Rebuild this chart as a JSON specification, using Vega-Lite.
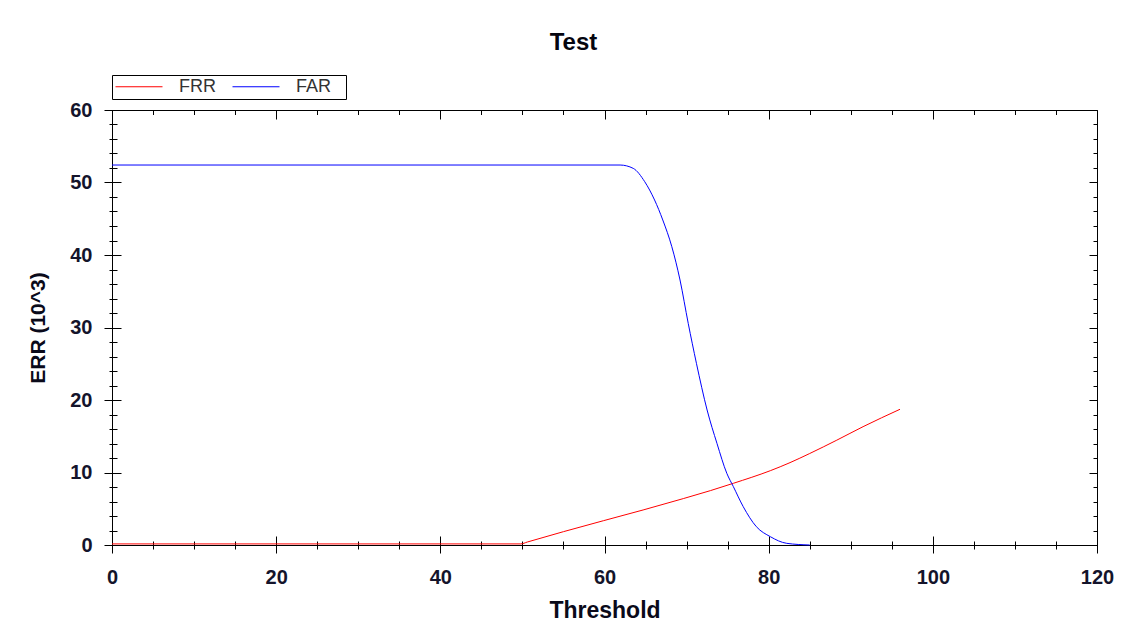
{
  "$schema": "https://vega.github.io/schema/vega-lite/v6.json",
  "width": 985,
  "height": 435,
  "autosize": "none",
  "padding": {"left": 112, "top": 110, "right": 33, "bottom": 93},
  "background": "white",
  "config": {
    "view": {"stroke": "black", "strokeWidth": 1},
    "font": "Liberation Sans"
  },
  "title": {
    "text": "Test",
    "fontSize": 24,
    "fontWeight": "bold",
    "color": "#05050f",
    "anchor": "middle",
    "dx": -31,
    "offset": 20
  },
  "data": {
    "values": [
      {"t": 0, "v": 0.15, "s": "FRR"},
      {"t": 49.8, "v": 0.15, "s": "FRR"},
      {"t": 50.6, "v": 0.41, "s": "FRR"},
      {"t": 55.0, "v": 1.84, "s": "FRR"},
      {"t": 59.9, "v": 3.36, "s": "FRR"},
      {"t": 64.7, "v": 4.83, "s": "FRR"},
      {"t": 69.6, "v": 6.4, "s": "FRR"},
      {"t": 72.9, "v": 7.5, "s": "FRR"},
      {"t": 75.7, "v": 8.51, "s": "FRR"},
      {"t": 80.2, "v": 10.25, "s": "FRR"},
      {"t": 82.6, "v": 11.36, "s": "FRR"},
      {"t": 85.0, "v": 12.62, "s": "FRR"},
      {"t": 88.3, "v": 14.46, "s": "FRR"},
      {"t": 91.5, "v": 16.32, "s": "FRR"},
      {"t": 96.0, "v": 18.72, "s": "FRR"},
      {"t": 0, "v": 52.41, "s": "FAR"},
      {"t": 61.9, "v": 52.41, "s": "FAR"},
      {"t": 63.5, "v": 51.95, "s": "FAR"},
      {"t": 64.9, "v": 50.11, "s": "FAR"},
      {"t": 66.1, "v": 47.59, "s": "FAR"},
      {"t": 67.1, "v": 44.83, "s": "FAR"},
      {"t": 68.2, "v": 41.15, "s": "FAR"},
      {"t": 69.2, "v": 36.55, "s": "FAR"},
      {"t": 70.2, "v": 30.57, "s": "FAR"},
      {"t": 71.2, "v": 25.06, "s": "FAR"},
      {"t": 72.5, "v": 18.62, "s": "FAR"},
      {"t": 73.7, "v": 14.02, "s": "FAR"},
      {"t": 74.9, "v": 9.89, "s": "FAR"},
      {"t": 75.7, "v": 8.05, "s": "FAR"},
      {"t": 76.9, "v": 5.29, "s": "FAR"},
      {"t": 78.5, "v": 2.53, "s": "FAR"},
      {"t": 80.2, "v": 1.15, "s": "FAR"},
      {"t": 82.2, "v": 0.23, "s": "FAR"},
      {"t": 85.0, "v": 0.0, "s": "FAR"}
    ]
  },
  "layer": [
    {
      "mark": {"type": "line", "strokeWidth": 1, "interpolate": "monotone"},
      "encoding": {
        "x": {
          "field": "t", "type": "quantitative",
          "scale": {"domain": [0, 120], "nice": false, "zero": false},
          "axis": {
            "orient": "bottom", "values": [0, 20, 40, 60, 80, 100, 120],
            "grid": false, "domain": false, "tickSize": 17, "offset": -9, "tickColor": "black",
            "labelPadding": 14, "labelFlush": false, "labelFontSize": 20, "labelFontWeight": "bold",
            "labelColor": "#14142b", "title": "Threshold", "titleFontSize": 23, "titleFontWeight": "bold",
            "titleColor": "#0a0a1a", "titlePadding": 12
          }
        },
        "y": {
          "field": "v", "type": "quantitative",
          "scale": {"domain": [0, 60], "nice": false, "zero": false},
          "axis": {
            "orient": "left", "values": [0, 10, 20, 30, 40, 50, 60],
            "grid": false, "domain": false, "tickSize": 17, "offset": -9, "tickColor": "black",
            "labelPadding": 12, "labelFontSize": 20, "labelFontWeight": "bold",
            "labelColor": "#14142b", "title": "ERR (10^3)", "titleFontSize": 21, "titleFontWeight": "bold",
            "titleColor": "#0a0a1a", "titlePadding": 21
          }
        },
        "color": {
          "field": "s", "type": "nominal",
          "scale": {"domain": ["FRR", "FAR"], "range": ["#ff0000", "#0000ff"]},
          "legend": {
            "orient": "none", "legendX": 0, "legendY": -35, "direction": "horizontal",
            "title": " ", "titleOrient": "right", "titlePadding": 12, "titleFontSize": 17,
            "symbolType": "stroke", "symbolSize": 2209, "symbolStrokeWidth": 1,
            "clipHeight": 17,
            "labelFontSize": 18, "labelColor": "#333333", "labelOffset": 16, "columnPadding": 16,
            "strokeColor": "black", "fillColor": "white", "padding": 3
          }
        }
      }
    },
    {
      "mark": {"type": "point", "opacity": 0},
      "encoding": {
        "x": {
          "field": "t", "type": "quantitative",
          "scale": {"domain": [0, 120], "nice": false, "zero": false},
          "axis": {
            "orient": "bottom",
            "values": [5, 10, 15, 25, 30, 35, 45, 50, 55, 65, 70, 75, 85, 90, 95, 105, 110, 115],
            "grid": false, "domain": false, "labels": false, "title": null,
            "tickSize": 8, "offset": -4, "tickColor": "black"
          }
        },
        "y": {
          "field": "v", "type": "quantitative",
          "scale": {"domain": [0, 60], "nice": false, "zero": false},
          "axis": {
            "orient": "left",
            "values": [2, 4, 6, 8, 12, 14, 16, 18, 22, 24, 26, 28, 32, 34, 36, 38, 42, 44, 46, 48, 52, 54, 56, 58],
            "grid": false, "domain": false, "labels": false, "title": null,
            "tickSize": 8, "offset": -5, "tickColor": "black"
          }
        }
      }
    },
    {
      "mark": {"type": "point", "opacity": 0},
      "encoding": {
        "x": {
          "field": "t", "type": "quantitative",
          "scale": {"domain": [0, 120], "nice": false, "zero": false},
          "axis": {
            "orient": "top", "values": [0, 20, 40, 60, 80, 100, 120],
            "grid": false, "domain": false, "labels": false, "title": null,
            "tickSize": 9, "offset": -9, "tickColor": "black"
          }
        },
        "y": {
          "field": "v", "type": "quantitative",
          "scale": {"domain": [0, 60], "nice": false, "zero": false},
          "axis": {
            "orient": "right", "values": [0, 10, 20, 30, 40, 50, 60],
            "grid": false, "domain": false, "labels": false, "title": null,
            "tickSize": 8, "offset": -8, "tickColor": "black"
          }
        }
      }
    },
    {
      "mark": {"type": "point", "opacity": 0},
      "encoding": {
        "x": {
          "field": "t", "type": "quantitative",
          "scale": {"domain": [0, 120], "nice": false, "zero": false},
          "axis": {
            "orient": "top",
            "values": [5, 10, 15, 25, 30, 35, 45, 50, 55, 65, 70, 75, 85, 90, 95, 105, 110, 115],
            "grid": false, "domain": false, "labels": false, "title": null,
            "tickSize": 4.5, "offset": -4.5, "tickColor": "black"
          }
        },
        "y": {
          "field": "v", "type": "quantitative",
          "scale": {"domain": [0, 60], "nice": false, "zero": false},
          "axis": {
            "orient": "right",
            "values": [2, 4, 6, 8, 12, 14, 16, 18, 22, 24, 26, 28, 32, 34, 36, 38, 42, 44, 46, 48, 52, 54, 56, 58],
            "grid": false, "domain": false, "labels": false, "title": null,
            "tickSize": 4, "offset": -4, "tickColor": "black"
          }
        }
      }
    }
  ],
  "resolve": {"scale": {"x": "independent", "y": "independent"}}
}
